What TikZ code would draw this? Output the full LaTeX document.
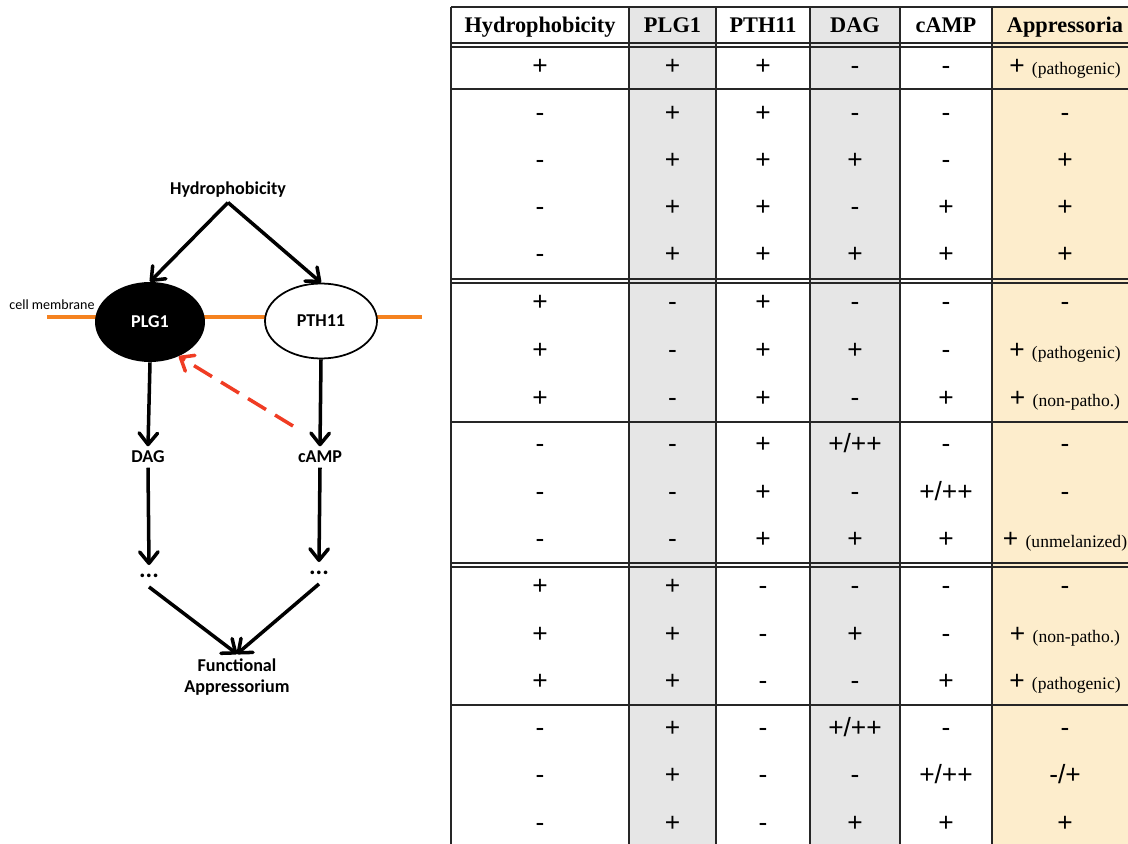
\documentclass[tikz,border=0pt]{standalone}
\usepackage{fontspec}
\setmainfont{Liberation Serif}
\newfontfamily\calfont{Carlito}
\newfontfamily\signfont{Liberation Sans}
\usetikzlibrary{arrows.meta,shapes.geometric}
\tikzset{>={Straight Barb[length=6.5pt,width=10.5pt,round]}}

\definecolor{membrane}{RGB}{245,130,32}
\definecolor{feedback}{RGB}{240,60,35}
\definecolor{colgray}{RGB}{230,230,230}
\definecolor{colorange}{RGB}{253,237,204}

\tikzset{
  lbl/.style={font=\calfont\bfseries\fontsize{10.3}{12}\selectfont, inner sep=2.5pt},
  flow/.style={->, line width=2pt},
  hdr/.style={font=\bfseries\fontsize{12.7}{14}\selectfont, anchor=base},
  cell/.style={font=\signfont\fontsize{15}{17}\selectfont, anchor=base},
  tbl/.style={line width=0.8pt, draw=black!85}
}
\newcommand{\note}[1]{{\rmfamily\fontsize{10}{12}\selectfont(#1)}}

\begin{document}
\begin{tikzpicture}[x=0.02cm,y=-0.02cm]
  \useasboundingbox (0,0) rectangle (1128,844);

  % pathway
  \draw[membrane, line width=2.2pt] (47,317) -- (422,317);
  \node[font=\calfont\fontsize{8}{10}\selectfont] (mem) at (52,305) {cell membrane};
  \node[lbl] (hyd) at (228,190) {Hydrophobicity};
  \node[lbl, ellipse, fill=black, text=white, minimum width=2.2cm, minimum height=1.6cm] (plg) at (150,322) {PLG1};
  \node[lbl, ellipse, draw, line width=1pt, fill=white, minimum width=2.24cm, minimum height=1.5cm] (pth) at (321,321) {PTH11};
  \node[lbl] (dag) at (148,457) {DAG};
  \node[lbl] (camp) at (320,457) {cAMP};
  \node[lbl, font=\calfont\bfseries\fontsize{14}{14}\selectfont, inner ysep=5pt] (dotsA) at (149,576) {...};
  \node[lbl, font=\calfont\bfseries\fontsize{14}{14}\selectfont, inner ysep=5pt] (dotsB) at (319,573) {...};
  \node[lbl, align=center] (func) at (237,677) {Functional\\Appressorium};
  \coordinate (fb) at (293,426);

  \draw[flow] (hyd.south) -- (plg.north);
  \draw[flow] (hyd.south) -- (pth.north);
  \draw[flow] (plg.south) -- (dag.north);
  \draw[flow] (pth.south) -- (camp.north);
  \draw[flow] (dag.south) -- (dotsA.north);
  \draw[flow] (camp.south) -- (dotsB.north);
  \draw[flow] (dotsA.south) -- (func.north);
  \draw[flow] (dotsB.south) -- (func.north);
  \draw[flow, feedback, dash pattern=on 12pt off 6pt] (fb) -- (plg.-50);

  % table
  \fill[colgray] (629,7) rectangle (716,844);
  \fill[colgray] (810,7) rectangle (900,844);
  \fill[colorange] (992,7) rectangle (1128,844);
  \foreach \x in {451,629,716,810,900,992}
    \draw[tbl] (\x,7) -- (\x,844);
  \foreach \y in {7,43,47,89,279,283,422,563,567,705}
    \draw[tbl] (451,\y) -- (1128,\y);

  \node[hdr] (tHyd) at (540,33) {Hydrophobicity};
  \node[hdr] (tPlg) at (672.5,33) {PLG1};
  \node[hdr] (tPth) at (763,33) {PTH11};
  \node[hdr] (tDag) at (855,33) {DAG};
  \node[hdr] (tCamp) at (946,33) {cAMP};
  \node[hdr] (tApp) at (1065,33) {Appressoria};

  \foreach \y/\a/\b/\c/\d/\e/\f [count=\r] in {
      66/+/+/+/-/-/{+ \note{pathogenic}},
      113/-/+/+/-/-/-,
      160/-/+/+/+/-/+,
      207/-/+/+/-/+/+,
      254/-/+/+/+/+/+,
      302/+/-/+/-/-/-,
      349/+/-/+/+/-/{+ \note{pathogenic}},
      397/+/-/+/-/+/{+ \note{non-patho.}},
      443/-/-/+/{+/++}/-/-,
      491/-/-/+/-/{+/++}/-,
      538/-/-/+/+/+/{+ \note{unmelanized}},
      585/+/+/-/-/-/-,
      633/+/+/-/+/-/{+ \note{non-patho.}},
      680/+/+/-/-/+/{+ \note{pathogenic}},
      727/-/+/-/{+/++}/-/-,
      774/-/+/-/-/{+/++}/{-/+},
      822/-/+/-/+/+/+}
  {
    \node[cell] (h\r) at (540,\y+9) {\a};
    \node[cell] (p\r) at (672.5,\y+9) {\b};
    \node[cell] (t\r) at (763,\y+9) {\c};
    \node[cell] (d\r) at (855,\y+9) {\d};
    \node[cell] (c\r) at (946,\y+9) {\e};
    \node[cell] (a\r) at (1065,\y+9) {\f};
  }
\end{tikzpicture}
\end{document}
